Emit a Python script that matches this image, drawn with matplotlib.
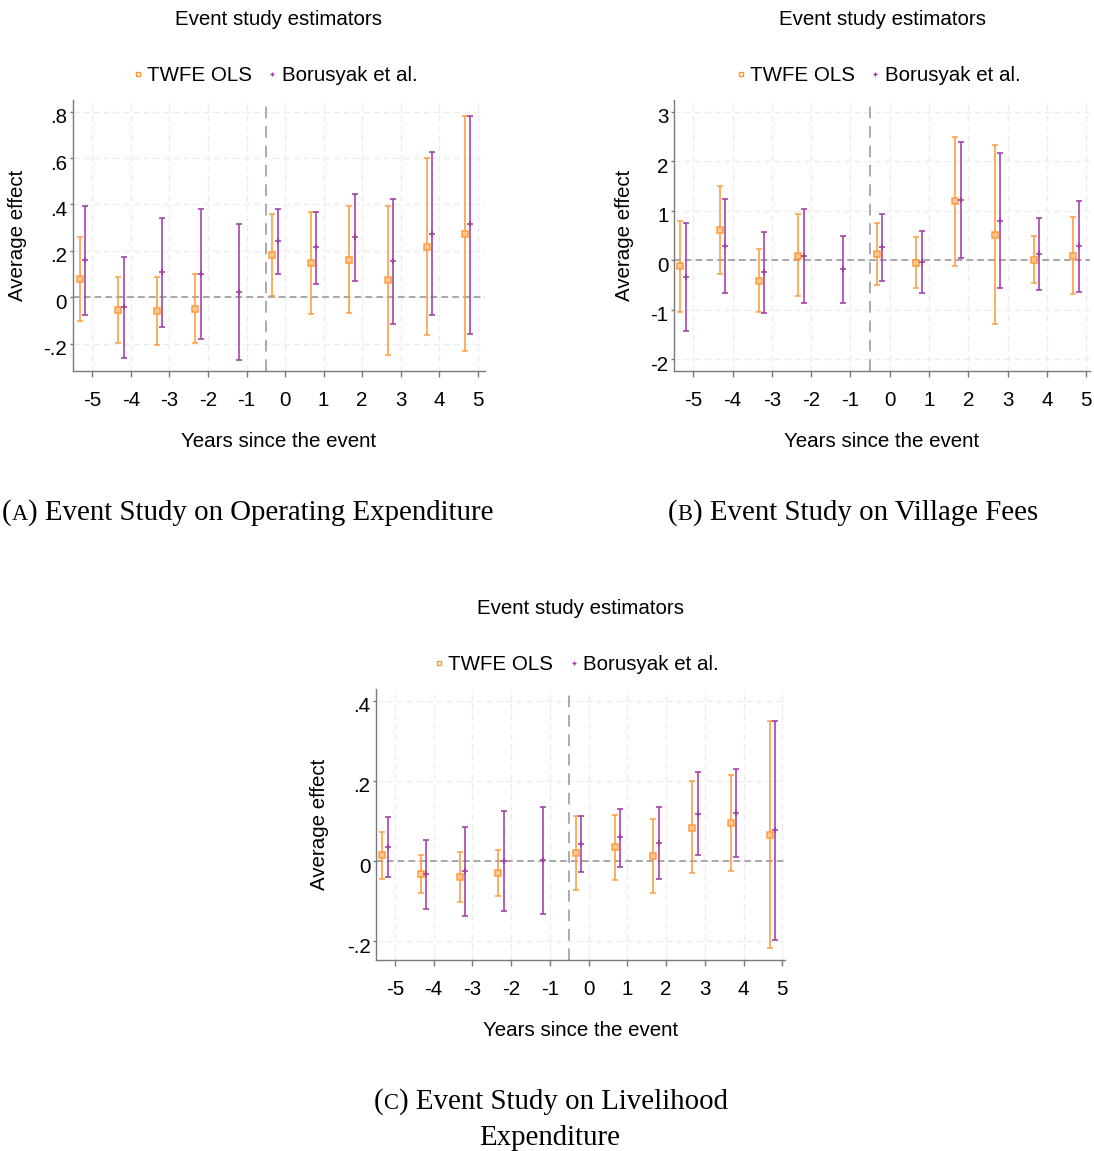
import numpy as np
import matplotlib.pyplot as plt
from matplotlib.lines import Line2D
from matplotlib.ticker import FuncFormatter
from matplotlib.transforms import ScaledTranslation

plt.rcParams['font.family'] = ['Liberation Sans', 'DejaVu Sans']
plt.rcParams['axes.unicode_minus'] = False

years = np.arange(-5, 6)

# (A) operating expenditure
opex_twfe = [0.080, -0.055, -0.059, -0.049, np.nan, 0.182, 0.148, 0.162, 0.072, 0.216, 0.272]
opex_twfe_lo = [-0.103, -0.198, -0.205, -0.198, np.nan, 0.007, -0.073, -0.070, -0.249, -0.165, -0.233]
opex_twfe_hi = [0.259, 0.088, 0.089, 0.099, np.nan, 0.358, 0.366, 0.392, 0.392, 0.599, 0.779]
opex_bjs = [0.159, -0.043, 0.108, 0.099, 0.022, 0.243, 0.216, 0.259, 0.157, 0.274, 0.315]
opex_bjs_lo = [-0.076, -0.261, -0.128, -0.181, -0.272, 0.102, 0.059, 0.068, -0.116, -0.078, -0.158]
opex_bjs_hi = [0.392, 0.174, 0.343, 0.381, 0.315, 0.381, 0.369, 0.447, 0.424, 0.625, 0.783]

# (B) village fees
fees_twfe = [-0.127, 0.61, -0.415, 0.094, np.nan, 0.12, -0.047, 1.20, 0.52, 0.013, 0.087]
fees_twfe_lo = [-1.05, -0.27, -1.04, -0.73, np.nan, -0.50, -0.56, -0.114, -1.28, -0.456, -0.69]
fees_twfe_hi = [0.80, 1.50, 0.22, 0.925, np.nan, 0.757, 0.46, 2.50, 2.33, 0.48, 0.865]
fees_bjs = [-0.34, 0.295, -0.24, 0.08, -0.18, 0.26, -0.04, 1.227, 0.80, 0.134, 0.288]
fees_bjs_lo = [-1.44, -0.657, -1.066, -0.865, -0.858, -0.42, -0.66, 0.04, -0.57, -0.60, -0.643]
fees_bjs_hi = [0.757, 1.233, 0.57, 1.03, 0.49, 0.925, 0.583, 2.39, 2.165, 0.858, 1.206]

# (C) livelihood expenditure
live_twfe = [0.015, -0.032, -0.041, -0.029, np.nan, 0.021, 0.035, 0.013, 0.083, 0.094, 0.065]
live_twfe_lo = [-0.044, -0.079, -0.103, -0.086, np.nan, -0.071, -0.047, -0.080, -0.029, -0.026, -0.217]
live_twfe_hi = [0.073, 0.015, 0.022, 0.027, np.nan, 0.113, 0.115, 0.105, 0.199, 0.215, 0.350]
live_bjs = [0.035, -0.033, -0.026, -0.001, 0.002, 0.043, 0.059, 0.045, 0.117, 0.120, 0.077]
live_bjs_lo = [-0.040, -0.120, -0.137, -0.124, -0.131, -0.028, -0.014, -0.044, 0.014, 0.010, -0.198]
live_bjs_hi = [0.110, 0.053, 0.085, 0.124, 0.135, 0.112, 0.131, 0.135, 0.221, 0.229, 0.350]

orange = '#ff9530'
orange_fill = '#ffc88f'
purple = '#a03aa6'
fs = 14.8
W, H = 1094, 1151

fig = plt.figure(figsize=(W / 100, H / 100), dpi=100)


def stata_fmt(v, pos):
    s = f'{round(v, 6):g}'
    return s.replace('0.', '.')


def event_panel(rect, twfe, twfe_lo, twfe_hi, bjs, bjs_lo, bjs_hi, yticks, ylim, xlim, ylab_x):
    ax = fig.add_axes(rect)
    twfe, twfe_lo, twfe_hi = np.array(twfe), np.array(twfe_lo), np.array(twfe_hi)
    bjs, bjs_lo, bjs_hi = np.array(bjs), np.array(bjs_lo), np.array(bjs_hi)
    ok = ~np.isnan(twfe)

    ax.axhline(0, color='#9a9a9a', ls=(0, (4, 2.5)), lw=1.2, zorder=1)
    ax.axvline(-0.5, color='#ababab', ls=(0, (6, 4)), lw=1.4, zorder=1)

    ax.errorbar(years[ok] - 0.33, twfe[ok], yerr=[twfe[ok] - twfe_lo[ok], twfe_hi[ok] - twfe[ok]],
                fmt='s', ms=4.8, mfc=orange_fill, mec=orange, mew=1.1, ecolor=orange,
                elinewidth=1.2, capsize=2.2, capthick=1, alpha=0.9, zorder=3)
    ax.errorbar(years - 0.19, bjs, yerr=[bjs - bjs_lo, bjs_hi - bjs],
                fmt='+', ms=4.5, mew=1.2, color=purple, ecolor=purple,
                elinewidth=1.2, capsize=2.2, capthick=1, alpha=0.95, zorder=3)

    ax.set_xlim(*xlim)
    ax.set_ylim(*ylim)
    ax.set_xticks(years)
    ax.set_yticks(yticks)
    ax.yaxis.set_major_formatter(FuncFormatter(stata_fmt))
    ax.grid(True, color='#ececec', ls=(0, (5, 3)), lw=0.9)
    ax.set_axisbelow(True)
    for side in ['top', 'right']:
        ax.spines[side].set_visible(False)
    for side in ['left', 'bottom']:
        ax.spines[side].set_color('#7a7a7a')
        ax.spines[side].set_linewidth(1.0)
    ax.tick_params(axis='x', length=4, width=1, color='#7a7a7a', pad=10.5, labelsize=fs)
    ax.tick_params(axis='y', length=2, width=1, color='#7a7a7a', pad=2, labelsize=fs)
    # Stata sets the y labels a little below their grid lines
    shift = ScaledTranslation(0, -4 / 100, fig.dpi_scale_trans)
    for lab in ax.get_yticklabels():
        lab.set_transform(lab.get_transform() + shift)

    ax.set_xlabel('Years since the event', fontsize=fs)
    ax.xaxis.set_label_coords(0.5, -0.259)
    ax.xaxis.label.set_va('center')
    ax.set_ylabel('Average effect', fontsize=fs)
    ax.yaxis.set_label_coords(ylab_x, 0.5)
    ax.yaxis.label.set_va('center')

    ax.text(0.5, 1.296, 'Event study estimators', transform=ax.transAxes,
            ha='center', va='center', fontsize=fs)
    handles = [
        Line2D([], [], ls='none', marker='s', ms=3.2, mfc='none', mec=orange, mew=1, label='TWFE OLS'),
        Line2D([], [], ls='none', marker='+', ms=3.5, mew=1, color=purple, label='Borusyak et al.'),
    ]
    ax.legend(handles=handles, loc='center', bbox_to_anchor=(0.49, 1.091), ncol=2, frameon=False,
              fontsize=fs, handlelength=0.5, handletextpad=0.2, columnspacing=0.75, borderpad=0)
    return ax


event_panel([0.0665, 0.6777, 0.3769, 0.2354], opex_twfe, opex_twfe_lo, opex_twfe_hi,
            opex_bjs, opex_bjs_lo, opex_bjs_hi, [-0.2, 0, 0.2, 0.4, 0.6, 0.8],
            (-0.318, 0.85), (-5.51, 5.19), -0.133)
event_panel([0.6161, 0.6777, 0.3803, 0.2354], fees_twfe, fees_twfe_lo, fees_twfe_hi,
            fees_bjs, fees_bjs_lo, fees_bjs_hi, [-2, -1, 0, 1, 2, 3],
            (-2.24, 3.24), (-5.49, 5.10), -0.118)
event_panel([0.3437, 0.1659, 0.3739, 0.2354], live_twfe, live_twfe_lo, live_twfe_hi,
            live_bjs, live_bjs_lo, live_bjs_hi, [-0.2, 0, 0.2, 0.4],
            (-0.247, 0.429), (-5.49, 5.07), -0.137)

# captions with small-caps panel letters
serif = ['Liberation Serif', 'DejaVu Serif']
cap_fs = 20.8
renderer = fig.canvas.get_renderer()


def caption(left_px, base_px, tag, rest):
    x = left_px
    for txt, size in [('(', cap_fs), (tag, cap_fs * 0.78), (') ' + rest, cap_fs)]:
        t = fig.text(x / W, 1 - base_px / H, txt, fontsize=size, family=serif,
                     ha='left', va='baseline')
        x = t.get_window_extent(renderer=renderer).x1


caption(2, 520, 'A', 'Event Study on Operating Expenditure')
caption(668, 520, 'B', 'Event Study on Village Fees')
caption(374, 1109, 'C', 'Event Study on Livelihood')
fig.text(550 / W, 1 - 1145 / H, 'Expenditure', fontsize=cap_fs, family=serif,
         ha='center', va='baseline')

fig.savefig('out.png', dpi=100)
